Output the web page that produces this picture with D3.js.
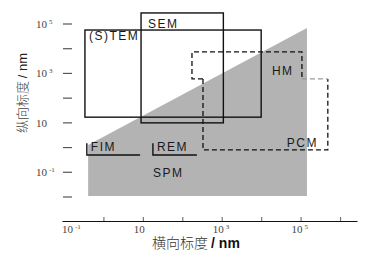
<!DOCTYPE html>
<html>
<head>
<meta charset="utf-8">
<script src="https://cdn.jsdelivr.net/npm/d3@7"></script>
<style>
  body { margin: 0; background: #fff; }
  .lbl { font-family: "Liberation Sans", Arial, sans-serif; font-size: 12px; letter-spacing: 1.5px; fill: #1a1a1a; }
  .tick-lbl { font-family: "Liberation Serif", serif; font-size: 11px; fill: #444; }
</style>
</head>
<body>
<svg id="svg" width="380" height="255"></svg>
<script>
// solid boxes
const boxNames = ['(S)TEM', 'SEM'];
const boxLateral = [[0.34, 1e4], [9, 1100]];
const boxVertical = [[17, 5.7e4], [10, 2.8e5]];

// dashed outlines (HM sits on top of PCM)
const hmLateral = [176, 1.08e5];
const hmVertical = [600, 7400];
const pcmLateral = [335, 4.9e5];
const pcmVertical = [0.8, 600];

// brackets
const bracketNames = ['FIM', 'REM'];
const bracketLateral = [[0.38, 8.5], [18, 235]];
const bracketVertical = [0.5, 1.5];

// SPM shaded region
const spmLateral = [0.41, 1.45e5, 1.45e5, 0.41];
const spmVertical = [1.27, 6.9e4, 0.011, 0.011];

const yTicks = [1e5, 1e4, 1e3, 100, 10, 1, 0.1, 0.01];
const yTickLabels = [['10', '5'], null, ['10', '3'], null, ['10', ''], null, ['10', '-1'], null];
const xTicks = [1, 10, 100, 1e3, 1e4, 1e5, 1e6];
const xLabelVals = [0.1, 10, 1e3, 1e5];
const xLabelText = [['10', '-1'], ['10', ''], ['10', '3'], ['10', '5']];

const svg = d3.select('#svg');

const x = d3.scaleLog().domain([Math.pow(10, -1.05), Math.pow(10, 6.43)]).range([62, 357]);
const y = d3.scaleLog().domain([0.01, 1e5]).range([197, 24]);

// shaded SPM area
svg.append('path')
  .attr('d', d3.line().x(d => x(d[0])).y(d => y(d[1]))(d3.zip(spmLateral, spmVertical)) + 'Z')
  .attr('fill', '#b3b3b3');

// solid boxes
boxNames.forEach((name, i) => {
  const [x0, x1] = boxLateral[i].map(x);
  const [y0, y1] = boxVertical[i].map(y);
  svg.append('rect')
    .attr('x', x0).attr('y', y1)
    .attr('width', x1 - x0).attr('height', y0 - y1)
    .attr('fill', 'none').attr('stroke', '#111').attr('stroke-width', 1.4);
});
svg.append('text').attr('class', 'lbl')
  .attr('x', x(boxLateral[0][0]) + 4).attr('y', y(boxVertical[0][1]) + 10)
  .text(boxNames[0]);
svg.append('text').attr('class', 'lbl')
  .attr('x', x(boxLateral[1][0]) + 7).attr('y', y(boxVertical[1][1]) + 15.5)
  .text(boxNames[1]);

// HM + PCM dashed outlines
const dashed = (pts, colour) => svg.append('path')
  .attr('d', d3.line()(pts))
  .attr('fill', 'none').attr('stroke', colour).attr('stroke-width', 1.3)
  .attr('stroke-dasharray', '5,3');

dashed([
  [x(pcmLateral[0]), y(hmVertical[0])],
  [x(hmLateral[0]), y(hmVertical[0])],
  [x(hmLateral[0]), y(hmVertical[1])],
  [x(hmLateral[1]), y(hmVertical[1])],
  [x(hmLateral[1]), y(hmVertical[0])]
], '#111');
dashed([
  [x(pcmLateral[0]), y(pcmVertical[1])],
  [x(pcmLateral[0]), y(pcmVertical[0])],
  [x(pcmLateral[1]), y(pcmVertical[0])],
  [x(pcmLateral[1]), y(pcmVertical[1])]
], '#111');
dashed([
  [x(hmLateral[1]), y(pcmVertical[1])],
  [x(pcmLateral[1]), y(pcmVertical[1])]
], '#999');

svg.append('text').attr('class', 'lbl')
  .attr('x', x(hmLateral[1]) - 30).attr('y', y(hmVertical[0]) - 4)
  .text('HM');
svg.append('text').attr('class', 'lbl')
  .attr('x', x(pcmLateral[1]) - 41).attr('y', y(pcmVertical[0]) - 3)
  .text('PCM');

// FIM / REM brackets
bracketNames.forEach((name, i) => {
  const [x0, x1] = bracketLateral[i].map(x);
  svg.append('path')
    .attr('d', d3.line()([[x0, y(bracketVertical[1])], [x0, y(bracketVertical[0])], [x1, y(bracketVertical[0])]]))
    .attr('fill', 'none').attr('stroke', '#111').attr('stroke-width', 1.4);
  svg.append('text').attr('class', 'lbl')
    .attr('x', x0 + 4).attr('y', y(bracketVertical[0]) - 4)
    .text(name);
});
svg.append('text').attr('class', 'lbl')
  .attr('x', x(bracketLateral[1][0])).attr('y', y(bracketVertical[0]) + 22)
  .text('SPM');

// x axis
const xAxisG = svg.append('g')
  .attr('transform', 'translate(0,221)')
  .call(d3.axisBottom(x).tickValues(xTicks).tickSize(-4).tickSizeOuter(0).tickFormat(''));
xAxisG.select('path.domain').attr('stroke', '#111').attr('stroke-width', 1.2);
xAxisG.selectAll('.tick line').attr('stroke', '#777').attr('stroke-width', 1.2);

xLabelVals.forEach((v, i) => {
  const t = svg.append('text').attr('class', 'tick-lbl')
    .attr('x', i === 0 ? x(v) - 2 : x(v) - 9).attr('y', 233);
  t.append('tspan').text(xLabelText[i][0]);
  t.append('tspan').attr('dy', -4).attr('dx', 2).style('font-size', '7px').text(xLabelText[i][1]);
});

// y axis: short dashes only
yTicks.forEach((v, i) => {
  svg.append('line')
    .attr('x1', 63).attr('x2', 72)
    .attr('y1', y(v)).attr('y2', y(v))
    .attr('stroke', '#555').attr('stroke-width', 1.2);
  if (yTickLabels[i]) {
    const t = svg.append('text').attr('class', 'tick-lbl')
      .attr('x', 36).attr('y', y(v) + 4);
    t.append('tspan').text(yTickLabels[i][0]);
    t.append('tspan').attr('dy', -4).attr('dx', 2).style('font-size', '7px').text(yTickLabels[i][1]);
  }
});

// axis titles
const title = svg.append('text')
  .attr('x', 152).attr('y', 248)
  .style('font-size', '14px');
title.append('tspan').style('font-family', '"Noto Sans CJK SC"').style('font-weight', 300).attr('fill', '#333').text('横向标度 ');
title.append('tspan').style('font-family', '"Liberation Sans", Arial').style('font-weight', 'bold').attr('fill', '#111').text('/ nm');

const yTitle = svg.append('text')
  .attr('transform', 'translate(27,93) rotate(-90)')
  .attr('text-anchor', 'middle')
  .style('font-size', '13px');
yTitle.append('tspan').style('font-family', '"Noto Sans CJK SC"').style('font-weight', 300).attr('fill', '#444').text('纵向标度 ');
yTitle.append('tspan').style('font-family', '"Liberation Sans", Arial').attr('fill', '#222').text('/ nm');
</script>
</body>
</html>
